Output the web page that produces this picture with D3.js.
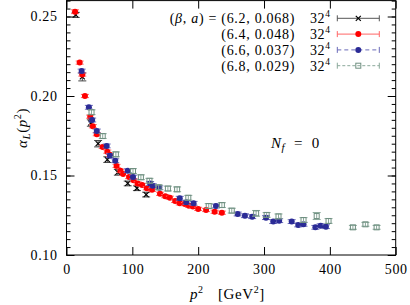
<!DOCTYPE html>
<html>
<head>
<meta charset="utf-8">
<script src="https://cdn.jsdelivr.net/npm/d3@7"></script>
<style>
  body { margin: 0; background: #fff; }
  svg text { font-family: "Liberation Serif", "DejaVu Serif", serif; fill: #000; }
</style>
</head>
<body>
<script>
(function () {

    var w = 410;
    var h = 305;

    // beta = 6.2, a = 0.068 fm
    var p2_62 = [14, 24, 37, 48, 62, 78, 93, 107, 121];
    var alpha_62 = [0.251, 0.212, 0.183, 0.170, 0.160, 0.152, 0.145, 0.142, 0.138];
    var err_62 = [0.0016, 0.0025, 0.0020, 0.0020, 0.0018, 0.0018, 0.0015, 0.0015, 0.0015];

    // beta = 6.4, a = 0.048 fm
    var p2_64 = [13, 20, 24, 28, 36, 40, 46, 55, 62, 66, 76, 82, 86, 95, 102, 108, 115, 122, 130, 142,
        150, 157, 165, 172, 180, 186, 192, 200, 212, 225, 236];
    var alpha_64 = [0.253, 0.221, 0.2135, 0.200, 0.187, 0.181, 0.176, 0.168, 0.165, 0.163, 0.156, 0.153,
        0.151, 0.149, 0.147, 0.145, 0.144, 0.142, 0.141, 0.1385, 0.137, 0.136, 0.134, 0.1325, 0.132,
        0.131, 0.1305, 0.129, 0.1283, 0.1272, 0.1266];
    var err_64 = [0.0012, 0.0010, 0.0010, 0.0010, 0.0010, 0.0010, 0.0010, 0.0010, 0.0010, 0.0010, 0.0010,
        0.0010, 0.0010, 0.0010, 0.0010, 0.0010, 0.0010, 0.0010, 0.0010, 0.0010, 0.0010, 0.0010, 0.0010,
        0.0010, 0.0010, 0.0010, 0.0010, 0.0010, 0.0010, 0.0010, 0.0010];

    // beta = 6.6, a = 0.037 fm
    var p2_66 = [23, 34, 39, 46, 61, 66, 74, 93, 101, 127, 131, 141, 172, 182, 193, 227, 260, 271, 282,
        303, 314, 323, 342, 352, 360, 378, 386, 394];
    var alpha_66 = [0.2157, 0.1929, 0.1849, 0.178, 0.1686, 0.1625, 0.1593, 0.153, 0.149, 0.145, 0.1436,
        0.1423, 0.1357, 0.1331, 0.1325, 0.1308, 0.1258, 0.1247, 0.1241, 0.1235, 0.121, 0.1216, 0.121,
        0.1189, 0.1193, 0.1174, 0.1184, 0.1178];
    var err_66 = [0.0012, 0.0012, 0.0012, 0.0012, 0.0012, 0.0012, 0.0012, 0.0012, 0.0012, 0.0012, 0.0012,
        0.0012, 0.0012, 0.0012, 0.0012, 0.0012, 0.0012, 0.0012, 0.0012, 0.0012, 0.0012, 0.0012, 0.0012,
        0.0012, 0.0012, 0.0012, 0.0012, 0.0012];

    // beta = 6.8, a = 0.029 fm
    var p2_68 = [38, 55, 75, 101, 113, 126, 140, 154, 168, 185, 216, 236, 251, 288, 304, 322, 360, 380,
        398, 435, 454, 471];
    var alpha_68 = [0.1898, 0.1748, 0.1633, 0.1528, 0.1489, 0.1467, 0.1426, 0.1418, 0.1413, 0.136, 0.1308,
        0.1314, 0.1279, 0.1262, 0.1252, 0.1243, 0.122, 0.1245, 0.1214, 0.1174, 0.1193, 0.1174];
    var err_68 = [0.0015, 0.0015, 0.0015, 0.0015, 0.0015, 0.0015, 0.0015, 0.0015, 0.0015, 0.0015, 0.0015,
        0.0015, 0.0015, 0.0018, 0.0015, 0.0015, 0.0015, 0.0022, 0.0015, 0.0012, 0.0012, 0.0012];

    var betas = ["6.2", "6.4", "6.6", "6.8"];
    var spacings = ["0.068", "0.048", "0.037", "0.029"];
    var volumes = ["32", "32", "32", "32"];

    var xTicks = [0, 100, 200, 300, 400, 500];
    var yTicks = [0.10, 0.15, 0.20, 0.25];

    var left = 66.5, right = 395.7, top = 0.6, bottom = 255;

    var x = d3.scaleLinear().domain([0, 500]).range([left, right]);
    var y = d3.scaleLinear().domain([0.10, 0.26]).range([bottom, top]);

    var svg = d3.select("body").append("svg")
        .attr("width", w)
        .attr("height", h);

    var yMinor = d3.range(0.10, 0.2601, 0.005).map(function (v) { return +v.toFixed(3); });

    // axes, ticks pointing inwards
    svg.append("g").attr("transform", "translate(0," + bottom + ")")
        .call(d3.axisBottom(x).tickValues(xTicks).tickSize(-8).tickPadding(9).tickFormat(d3.format("d")));
    svg.append("g").attr("transform", "translate(0," + top + ")")
        .call(d3.axisTop(x).tickValues(xTicks).tickSize(-8).tickFormat(""));
    svg.append("g").attr("transform", "translate(" + left + ",0)")
        .call(d3.axisLeft(y).tickValues(yMinor).tickSize(-4).tickFormat(""));
    svg.append("g").attr("transform", "translate(" + left + ",0)")
        .call(d3.axisLeft(y).tickValues(yTicks).tickSize(-8).tickPadding(9).tickFormat(d3.format(".2f")));
    svg.append("g").attr("transform", "translate(" + right + ",0)")
        .call(d3.axisRight(y).tickValues(yMinor).tickSize(-4).tickFormat(""));
    svg.append("g").attr("transform", "translate(" + right + ",0)")
        .call(d3.axisRight(y).tickValues(yTicks).tickSize(-8).tickFormat(""));

    svg.selectAll(".domain").remove();
    svg.selectAll(".tick line").attr("stroke", "#000").attr("stroke-width", 1);
    svg.selectAll(".tick text").attr("font-size", 14).attr("letter-spacing", 0.6);

    svg.append("rect")
        .attr("x", left).attr("y", top)
        .attr("width", right - left).attr("height", bottom - top)
        .attr("fill", "none").attr("stroke", "#000").attr("stroke-width", 1);

    var series = [
        { p: p2_62, a: alpha_62, e: err_62, color: "#000000", bar: "#444444", dash: null, shape: "x" },
        { p: p2_64, a: alpha_64, e: err_64, color: "#ff0000", bar: "#ff6666", dash: null, shape: "dot" },
        { p: p2_66, a: alpha_66, e: err_66, color: "#2b2b96", bar: "#6a6ab8", dash: "4,3", shape: "dot" },
        { p: p2_68, a: alpha_68, e: err_68, color: "#6f8f80", bar: "#8aa89a", dash: "3,2", shape: "square" }
    ];

    function drawMarker(g, shape, color, cx, cy) {
        if (shape === "x") {
            g.append("path")
                .attr("d", "M" + (cx - 2.5) + "," + (cy - 2.5) + "L" + (cx + 2.5) + "," + (cy + 2.5) +
                    "M" + (cx - 2.5) + "," + (cy + 2.5) + "L" + (cx + 2.5) + "," + (cy - 2.5))
                .attr("stroke", color).attr("stroke-width", 1.2);
        } else if (shape === "dot") {
            g.append("circle").attr("cx", cx).attr("cy", cy).attr("r", 3).attr("fill", color);
        } else {
            g.append("rect").attr("x", cx - 2.5).attr("y", cy - 2.5).attr("width", 5).attr("height", 5)
                .attr("fill", "none").attr("stroke", color).attr("stroke-width", 1);
        }
    }

    var plot = svg.append("g");

    series.forEach(function (s) {
        var g = plot.append("g");
        s.p.forEach(function (pv, i) {
            var cx = x(pv), cy = y(s.a[i]);
            var y1 = y(s.a[i] + s.e[i]), y2 = y(s.a[i] - s.e[i]);
            g.append("path")
                .attr("d", "M" + cx + "," + y1 + "L" + cx + "," + y2 +
                    "M" + (cx - 4) + "," + y1 + "L" + (cx + 4) + "," + y1 +
                    "M" + (cx - 4) + "," + y2 + "L" + (cx + 4) + "," + y2)
                .attr("stroke", s.bar).attr("stroke-width", 1).attr("fill", "none");
            drawMarker(g, s.shape, s.color, cx, cy);
        });
    });

    // legend
    var leg = svg.append("g");
    var ly0 = 18.3, ldy = 15.8;
    series.forEach(function (s, i) {
        var ly = ly0 + i * ldy;
        var t = leg.append("text").attr("x", 295).attr("y", ly + 5).attr("text-anchor", "end")
            .attr("font-size", 14).attr("letter-spacing", 0.7);
        if (i === 0) {
            t.append("tspan").text("(");
            t.append("tspan").attr("font-style", "italic").text("β");
            t.append("tspan").text(", ");
            t.append("tspan").attr("font-style", "italic").text("a");
            t.append("tspan").text(") = ");
        }
        t.append("tspan").text("(" + betas[i] + ", " + spacings[i] + ")");

        var v = leg.append("text").attr("x", 310).attr("y", ly + 5).attr("font-size", 14)
            .attr("letter-spacing", 0.6);
        v.append("tspan").text(volumes[i]);
        v.append("tspan").attr("dy", -6).attr("font-size", 9.5).text("4");

        var xa = 337.3, xb = 379.3;
        leg.append("path")
            .attr("d", "M" + xa + "," + ly + "L" + xb + "," + ly)
            .attr("stroke", i === 0 ? "#555" : s.bar).attr("stroke-width", 1)
            .attr("stroke-dasharray", s.dash);
        leg.append("path")
            .attr("d", "M" + xa + "," + (ly - 3) + "L" + xa + "," + (ly + 3) +
                "M" + xb + "," + (ly - 3) + "L" + xb + "," + (ly + 3))
            .attr("stroke", i === 0 ? "#555" : s.bar).attr("stroke-width", 1);
        drawMarker(leg, s.shape, s.color, (xa + xb) / 2, ly);
    });

    // N_f = 0
    var nf = svg.append("text").attr("x", 271).attr("y", 148).attr("font-size", 15)
        .attr("letter-spacing", 0.6);
    nf.append("tspan").attr("font-style", "italic").text("N");
    nf.append("tspan").attr("font-style", "italic").attr("font-size", 11).attr("dy", 3).text("f");
    nf.append("tspan").attr("dy", -3).attr("xml:space", "preserve").text("  =  0");

    // axis titles
    var xl = svg.append("text").attr("x", 190).attr("y", 299).attr("font-size", 15)
        .attr("letter-spacing", 0.6);
    xl.append("tspan").attr("font-style", "italic").text("p");
    xl.append("tspan").attr("dy", -6).attr("font-size", 10).text("2");
    xl.append("tspan").attr("x", 218).attr("dy", 6).text("[GeV");
    xl.append("tspan").attr("dy", -6).attr("font-size", 10).text("2");
    xl.append("tspan").attr("dy", 6).text("]");

    var yl = svg.append("text")
        .attr("transform", "translate(27,128) rotate(-90)")
        .attr("text-anchor", "middle").attr("font-size", 15).attr("letter-spacing", 0.6);
    yl.append("tspan").attr("font-style", "italic").text("α");
    yl.append("tspan").attr("font-style", "italic").attr("font-size", 11).attr("dy", 3).text("L");
    yl.append("tspan").attr("dy", -3).text("(");
    yl.append("tspan").attr("font-style", "italic").text("p");
    yl.append("tspan").attr("dy", -6).attr("font-size", 10).text("2");
    yl.append("tspan").attr("dy", 6).text(")");

})();
</script>
</body>
</html>
